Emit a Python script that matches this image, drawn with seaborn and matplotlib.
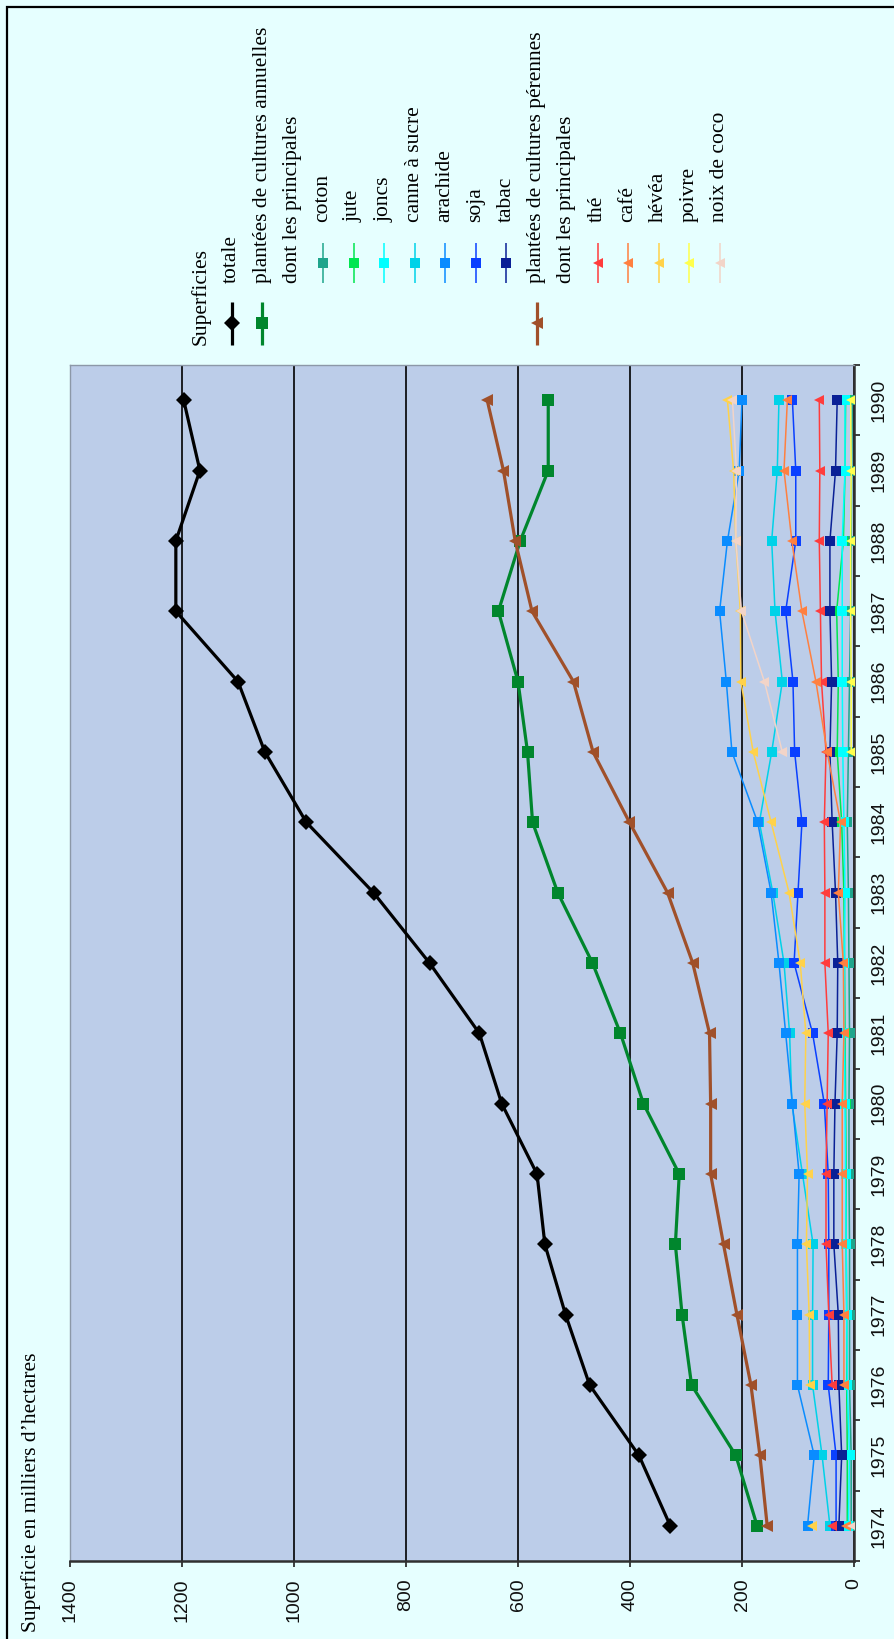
"""
Superficies cultivées (milliers d'hectares), 1974-1990.
Graphique pivoté de 90° : années à droite, valeurs en bas (0 à droite).
"""

import matplotlib
matplotlib.use("Agg")
import matplotlib.pyplot as plt
import numpy as np
import pandas as pd
import seaborn as sns

nan = np.nan

# --- Données ---
annees = [1974, 1975, 1976, 1977, 1978, 1979, 1980, 1981, 1982,
          1983, 1984, 1985, 1986, 1987, 1988, 1989, 1990]

totale = [328, 384, 472, 515, 552, 566, 629, 669, 758, 858, 978, 1052, 1100, 1211, 1211, 1168, 1197]
annuelles = [173, 211, 290, 307, 319, 312, 376, 417, 467, 529, 574, 583, 600, 635, 596, 546, 546]
coton = [5, 5, 8, 8, 8, 9, 9, 8, 9, 10, 12, 10, 8, 6, 5, 4, 3]
jute = [12, 12, 13, 13, 14, 14, 15, 16, 17, 18, 22, 30, 28, 31, 19, 16, 15]
joncs = [10, 8, 12, 13, 14, 15, 16, 17, 17, 16, 18, 20, 21, 21, 21, 16, 16]
canne = [43, 57, 74, 74, 73, 92, 111, 115, 125, 145, 169, 147, 128, 141, 147, 137, 134]
arachide = [83, 71, 101, 101, 101, 98, 110, 122, 134, 148, 172, 218, 228, 240, 226, 205, 200]
soja = [32, 32, 46, 45, 45, 46, 53, 74, 107, 100, 93, 106, 109, 122, 104, 104, 110]
tabac = [27, 22, 27, 28, 36, 36, 34, 30, 29, 33, 39, 43, 40, 43, 43, 33, 30]
perennes = [155, 168, 184, 209, 233, 256, 256, 258, 288, 333, 401, 466, 501, 575, 605, 626, 655]
the = [39, nan, 39, 45, 50, 50, 48, 46, 52, 52, 53, 50, 58, 60, 62, 61, 62]
cafe = [15, nan, 18, 18, 21, 21, 21, 18, 19, 28, 24, 48, 68, 93, 111, 125, 119]
hevea = [75, nan, 79, 80, 85, 83, 88, 86, 96, 116, 148, 180, 202, 203, 211, 215, 226]
poivre = [nan, nan, nan, nan, nan, nan, nan, nan, nan, nan, nan, 5, 5, 6, 6, 5, 6]
noix = [3, nan, nan, nan, nan, nan, nan, nan, nan, nan, nan, 128, 160, 201, 211, 210, 217]

graduations = [0, 200, 400, 600, 800, 1000, 1200, 1400]

# ordre des séries = ordre de la légende
series = [
    ("totale", totale), ("plantées de cultures annuelles", annuelles),
    ("coton", coton), ("jute", jute), ("joncs", joncs), ("canne à sucre", canne),
    ("arachide", arachide), ("soja", soja), ("tabac", tabac),
    ("plantées de cultures pérennes", perennes),
    ("thé", the), ("café", cafe), ("hévéa", hevea), ("poivre", poivre),
    ("noix de coco", noix),
]

# couleur, marqueur, grande série ?
styles = {
    "totale": ("#000000", "D", True),
    "plantées de cultures annuelles": ("#00862D", "s", True),
    "coton": ("#1FA58C", "s", False),
    "jute": ("#00E650", "s", False),
    "joncs": ("#00FFFF", "s", False),
    "canne à sucre": ("#00D2E8", "s", False),
    "arachide": ("#0A8CFF", "s", False),
    "soja": ("#0A40FF", "s", False),
    "tabac": ("#0A2096", "s", False),
    "plantées de cultures pérennes": ("#A0502A", "<", True),
    "thé": ("#FF3C3C", "<", False),
    "café": ("#FF8040", "<", False),
    "hévéa": ("#FFD24A", "<", False),
    "poivre": ("#FFFF4D", "<", False),
    "noix de coco": ("#F2D4C8", "<", False),
}

FOND = "#E6FFFF"
FOND_AXE = "#BCCDE9"
W, H = 894, 1639
SERIF = ["Liberation Serif", "DejaVu Serif"]
SANS = ["Liberation Sans", "DejaVu Sans"]
TAILLE_TEXTE = 15.5

sns.set_style("white")

fig = plt.figure(figsize=(W / 100, H / 100), dpi=100, facecolor=FOND)
ax = fig.add_axes([70 / W, 1 - 1561 / H, 784 / W, 1196 / H])
ax.set_facecolor(FOND_AXE)

for i, (nom, valeurs) in enumerate(series):
    couleur, marqueur, grande = styles[nom]
    df = pd.DataFrame({"annee": annees, "valeur": valeurs})
    # coupure de la ligne aux années manquantes
    df["segment"] = df["valeur"].isna().cumsum()
    df = df.dropna()
    sns.lineplot(
        data=df, x="valeur", y="annee", units="segment", estimator=None,
        orient="y", color=couleur, marker=marqueur,
        markersize=(9 if marqueur != "D" else 8) if grande else 6.5,
        linewidth=2.3 if grande else 1.1,
        markeredgewidth=0, legend=False, ax=ax, zorder=3 + i,
    )

# axe des valeurs (en bas, inversé)
ax.set_xlim(1400, 0)
ax.set_xticks(graduations)
ax.set_xticklabels([str(g) for g in graduations], rotation=90, family=SANS,
                   fontsize=14, color="#111111")
ax.set_xlabel("")
ax.grid(axis="x", color="black", linewidth=1.2)
ax.grid(axis="y", visible=False)
ax.set_axisbelow(True)

# axe des années (à droite)
ax.set_ylim(1973.5, 1990.5)
ax.yaxis.tick_right()
ax.set_yticks([a - 0.5 for a in annees] + [1990.5])
ax.set_yticklabels([])
ax.set_yticks(annees, minor=True)
ax.set_yticklabels([str(a) for a in annees], minor=True, rotation=90,
                   va="center", family=SANS, fontsize=14, color="#111111")
ax.set_ylabel("")

ax.tick_params(axis="x", which="major", direction="out", length=4.5, width=1.3,
               color="#303030", pad=8, bottom=True)
ax.tick_params(axis="y", which="major", direction="out", length=4.5, width=1.3,
               color="#303030", right=True, left=False)
ax.tick_params(axis="y", which="minor", length=0, pad=12, right=True, left=False)

for cote in ["left", "top"]:
    ax.spines[cote].set_color("#8C98A8")
    ax.spines[cote].set_linewidth(1)
for cote in ["bottom", "right"]:
    ax.spines[cote].set_color("#303030")
    ax.spines[cote].set_linewidth(1.8)

# --- calque en pixels pour la légende, le titre et le cadre ---
lax = fig.add_axes([0, 0, 1, 1], zorder=10)
lax.set_xlim(0, W)
lax.set_ylim(H, 0)
lax.axis("off")
lax.patch.set_alpha(0)

# cadre : seuls les bords haut et gauche sont visibles (image rognée)
lax.plot([6.5, 6.5, W], [H, 6.5, 6.5], color="black", linewidth=1.6,
         solid_joinstyle="miter")

lax.text(31, 1632, "Superficie en milliers d\u2019hectares", rotation=90,
         rotation_mode="anchor", ha="left", va="center", family=SERIF,
         fontsize=TAILLE_TEXTE, color="black")

lignes_legende = [
    "Superficies", "totale", "plantées de cultures annuelles", "dont les principales",
    "coton", "jute", "joncs", "canne à sucre", "arachide", "soja", "tabac",
    "plantées de cultures pérennes", "dont les principales",
    "thé", "café", "hévéa", "poivre", "noix de coco",
]

for k, texte in enumerate(lignes_legende):
    x = 201 + 30.5 * k
    if k == 0:
        debut = 345
    elif texte in styles and styles[texte][2]:
        debut = 283
        couleur, marqueur, _ = styles[texte]
        lax.plot([x, x], [302, 345], color=couleur, linewidth=2.3,
                 solid_capstyle="butt")
        lax.plot([x], [323], marker=marqueur, color=couleur,
                 markersize=9 if marqueur != "D" else 8, markeredgewidth=0)
    elif texte in styles:
        debut = 222
        couleur, marqueur, _ = styles[texte]
        lax.plot([x, x], [243, 283], color=couleur, linewidth=1.1,
                 solid_capstyle="butt")
        lax.plot([x], [263], marker=marqueur, color=couleur,
                 markersize=6.5, markeredgewidth=0)
    else:
        debut = 283
    lax.text(x, debut, texte, rotation=90, rotation_mode="anchor", ha="left",
             va="center", family=SERIF, fontsize=TAILLE_TEXTE, color="black")

fig.savefig("out.png", dpi=100, facecolor=FOND)
